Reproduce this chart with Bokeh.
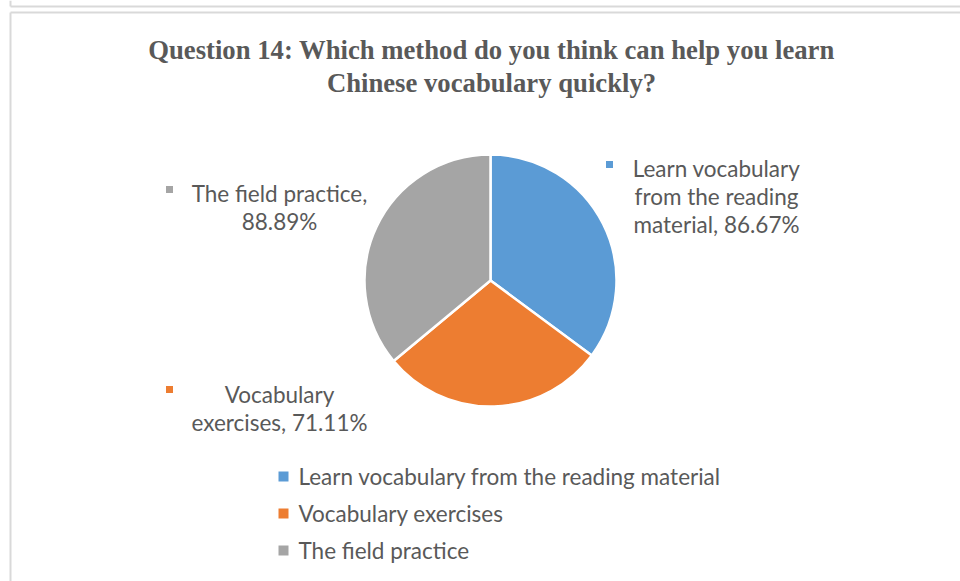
import math
from bokeh.plotting import figure
from bokeh.models import ColumnDataSource
from bokeh.core.properties import value
from bokeh.embed import file_html
from bokeh.resources import INLINE

# ---- data ----
categories = ["Learn vocabulary from the reading material", "Vocabulary exercises", "The field practice"]
percent = [86.67, 71.11, 88.89]
colors = ["#5B9BD5", "#ED7D31", "#A5A5A5"]
title_lines = ["Question 14: Which method do you think can help you learn", "Chinese vocabulary quickly?"]

W, H = 960, 581
def Y(py):
    return H - py

p = figure(width=W, height=H, x_range=(0, W), y_range=(0, H), min_border=0,
           toolbar_location=None, output_backend="svg")
p.axis.visible = False
p.grid.visible = False
p.outline_line_color = None
p.background_fill_color = "white"
p.border_fill_color = "white"

# frame lines
border = "#d9d9d9"
p.segment(x0=[10, 10, 10, 10], y0=[Y(6), Y(0), Y(12), Y(12)],
          x1=[W, 10, W, 10], y1=[Y(6), Y(6), Y(12), Y(581)],
          line_color=border, line_width=2)

# pie
total = sum(percent)
starts, ends = [], []
a = math.pi / 2
for v in percent:
    s = a
    e = a - v / total * 2 * math.pi
    starts.append(s)
    ends.append(e)
    a = e
src = ColumnDataSource(dict(start=starts, end=ends, color=colors))
p.wedge(x=490, y=Y(280), radius=126, radius_units="screen", start_angle="start", end_angle="end",
        direction="clock", fill_color="color", line_color="white", line_width=2.5, source=src)

txt = "#595959"
font = value("Lato")
fs = "22.5px"

# title
for i, t in enumerate(title_lines):
    p.text(x=[491], y=[Y(49 + i * 33)], text=[t], text_align="center", text_baseline="middle",
           text_font=value("Liberation Serif"), text_font_style="bold", text_font_size="26.7px",
           text_color=txt)

# data labels
lbl = [f"{c}, {v:.2f}%" for c, v in zip(categories, percent)]
lines_blue = ["Learn vocabulary", "from the reading", lbl[0].split("reading ")[1]]
lines_orange = ["Vocabulary", lbl[1].split("Vocabulary ")[1]]
lines_gray = [lbl[2].split(" 8")[0], f"{percent[2]:.2f}%"]

def label(lines, cx, y0, mx, my, color):
    for i, l in enumerate(lines):
        p.text(x=[cx], y=[Y(y0 + i * 28)], text=[l], text_align="center", text_baseline="middle",
               text_font=font, text_font_size=fs, text_color=txt)
    p.scatter(x=[mx], y=[Y(my)], marker="square", size=7, fill_color=color, line_color=None)

label(lines_blue, 716, 168, 609, 164, colors[0])
label(lines_orange, 279, 394, 169, 389, colors[1])
label(lines_gray, 279, 193, 169, 189, colors[2])

# legend
for i, (c, col) in enumerate(zip(categories, colors)):
    yy = 476 + i * 37
    p.scatter(x=[283], y=[Y(yy)], marker="square", size=10, fill_color=col, line_color=None)
    p.text(x=[298], y=[Y(yy)], text=[c], text_align="left", text_baseline="middle",
           text_font=font, text_font_size=fs, text_color=txt)

open("out.html", "w").write(file_html(p, INLINE))
